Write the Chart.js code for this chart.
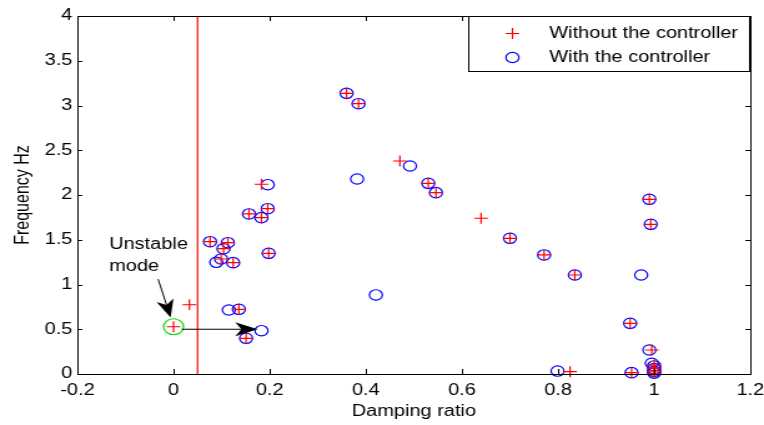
<!DOCTYPE html>
<html>
<head>
<meta charset="utf-8">
<script src="https://cdn.jsdelivr.net/npm/chart.js@4.4.1/dist/chart.umd.min.js"></script>
<style>
html, body { margin: 0; padding: 0; background: #fff; }
#wrap { width: 764px; height: 425px; }
canvas { display: block; }
</style>
</head>
<body>
<div id="wrap"><canvas id="chart" width="612" height="425" style="width:764px;height:425px"></canvas></div>
<script>
// eigenvalues without the controller (red +)
const withoutX = [0, 0.033, 0.076, 0.113, 0.104, 0.099, 0.124, 0.157, 0.183, 0.196, 0.183, 0.198, 0.136, 0.151,
  0.36, 0.385, 0.471, 0.53, 0.546, 0.64, 0.70, 0.771, 0.835, 0.99, 0.993, 0.95, 0.995, 0.825, 0.953,
  1.0, 1.0, 1.0, 1.0];
const withoutY = [0.528, 0.774, 1.478, 1.467, 1.40, 1.285, 1.244, 1.788, 1.747, 1.847, 2.12, 1.348, 0.723, 0.399,
  3.136, 3.02, 2.38, 2.13, 2.026, 1.74, 1.516, 1.33, 1.106, 1.952, 1.672, 0.566, 0.268, 0.026, 0.015,
  0.10, 0.065, 0.035, 0.008];

// eigenvalues with the controller (blue o)
const withX = [0.076, 0.113, 0.104, 0.099, 0.089, 0.124, 0.157, 0.183, 0.196, 0.196, 0.198, 0.115, 0.136, 0.183, 0.151,
  0.36, 0.385, 0.492, 0.382, 0.53, 0.546, 0.421, 0.70, 0.771, 0.835, 0.99, 0.993, 0.973, 0.95, 0.99,
  0.799, 0.953, 0.995, 1.0, 1.0, 1.0, 1.0];
const withY = [1.478, 1.467, 1.40, 1.285, 1.248, 1.244, 1.788, 1.747, 1.847, 2.115, 1.348, 0.715, 0.723, 0.484, 0.399,
  3.136, 3.02, 2.324, 2.179, 2.13, 2.026, 0.883, 1.516, 1.33, 1.106, 1.952, 1.672, 1.106, 0.566, 0.268,
  0.033, 0.015, 0.12, 0.09, 0.06, 0.03, 0.01];

const unstableX = [0];
const unstableY = [0.528];

// damping limit line
const limitX = [0.05, 0.05];
const limitY = [0, 4];

// annotation arrows, [x0, y0, x1, y1] in data units
const arrowLabel = [-0.032, 1.06, -0.006, 0.63];
const arrowShift = [0.017, 0.50, 0.175, 0.50];
const noteLines = ['Unstable', 'mode'];
const noteX = -0.134;
const noteY = [1.45, 1.205];

const legendLabels = ['Without the controller', 'With the controller'];

const FONT = "'Liberation Sans', Arial, sans-serif";
const pts = (xs, ys) => xs.map((x, i) => ({ x: x, y: ys[i] }));

const frame = {
  id: 'frame',
  afterDraw(chart) {
    const ctx = chart.ctx, a = chart.chartArea;
    const xs = chart.scales.x, ys = chart.scales.y;
    ctx.save();
    ctx.strokeStyle = '#000';
    ctx.lineWidth = 1;
    ctx.strokeRect(Math.round(a.left) + 0.5, Math.round(a.top) + 0.5,
      Math.round(a.right - a.left), Math.round(a.bottom - a.top));
    ctx.beginPath();
    xs.ticks.forEach((t, i) => {
      const px = Math.round(xs.getPixelForTick(i)) + 0.5;
      ctx.moveTo(px, a.bottom); ctx.lineTo(px, a.bottom - 5);
      ctx.moveTo(px, a.top); ctx.lineTo(px, a.top + 5);
    });
    ys.ticks.forEach((t, i) => {
      const py = Math.round(ys.getPixelForTick(i)) + 0.5;
      ctx.moveTo(a.left, py); ctx.lineTo(a.left + 4, py);
      ctx.moveTo(a.right, py); ctx.lineTo(a.right - 4, py);
    });
    ctx.stroke();
    ctx.restore();
  }
};

function arrow(ctx, xs, ys, seg) {
  const x0 = xs.getPixelForValue(seg[0]), y0 = ys.getPixelForValue(seg[1]);
  const x1 = xs.getPixelForValue(seg[2]), y1 = ys.getPixelForValue(seg[3]);
  const ang = Math.atan2(y1 - y0, x1 - x0);
  const len = 18, half = 7;
  const bx = x1 - Math.cos(ang) * len, by = y1 - Math.sin(ang) * len;
  ctx.beginPath();
  ctx.moveTo(x0, y0); ctx.lineTo(bx + Math.cos(ang) * 5, by + Math.sin(ang) * 5);
  ctx.stroke();
  ctx.beginPath();
  ctx.moveTo(x1, y1);
  ctx.lineTo(bx - Math.sin(ang) * half, by + Math.cos(ang) * half);
  ctx.lineTo(bx + Math.cos(ang) * 5, by + Math.sin(ang) * 5);
  ctx.lineTo(bx + Math.sin(ang) * half, by - Math.cos(ang) * half);
  ctx.closePath();
  ctx.fill();
}

const notes = {
  id: 'notes',
  afterDatasetsDraw(chart) {
    const ctx = chart.ctx, xs = chart.scales.x, ys = chart.scales.y;
    ctx.save();
    ctx.strokeStyle = '#000';
    ctx.fillStyle = '#000';
    ctx.lineWidth = 1;
    arrow(ctx, xs, ys, arrowLabel);
    arrow(ctx, xs, ys, arrowShift);
    ctx.font = '16px ' + FONT;
    ctx.textAlign = 'left';
    ctx.textBaseline = 'middle';
    noteLines.forEach((t, i) => ctx.fillText(t, xs.getPixelForValue(noteX), ys.getPixelForValue(noteY[i])));
    ctx.restore();
  }
};

const box = {
  id: 'box',
  afterDraw(chart) {
    const ctx = chart.ctx, a = chart.chartArea;
    const w = 225, h = 55;
    const left = Math.round(a.right - 1 - w) + 0.5, top = Math.round(a.top) + 0.5;
    ctx.save();
    ctx.fillStyle = '#fff';
    ctx.fillRect(left, top, w, h);
    ctx.strokeStyle = '#000';
    ctx.lineWidth = 1;
    ctx.strokeRect(left, top, w, h);
    const mx = left + 35, r1 = top + 17, r2 = top + 41;
    ctx.strokeStyle = '#ff0000';
    ctx.lineWidth = 1.2;
    ctx.beginPath();
    ctx.moveTo(mx - 5.5, r1); ctx.lineTo(mx + 5.5, r1);
    ctx.moveTo(mx, r1 - 5.5); ctx.lineTo(mx, r1 + 5.5);
    ctx.stroke();
    ctx.strokeStyle = '#0000ff';
    ctx.beginPath();
    ctx.arc(mx, r2, 5.2, 0, Math.PI * 2);
    ctx.stroke();
    ctx.fillStyle = '#000';
    ctx.font = '16px ' + FONT;
    ctx.textBaseline = 'middle';
    ctx.fillText(legendLabels[0], left + 64.5, r1);
    ctx.fillText(legendLabels[1], left + 64.5, r2);
    ctx.restore();
  }
};

new Chart(document.getElementById('chart'), {
  type: 'scatter',
  data: {
    datasets: [
      { label: legendLabels[0], data: pts(withoutX, withoutY), pointStyle: 'cross', pointRadius: 5.5,
        borderColor: '#ff0000', backgroundColor: '#ff0000', borderWidth: 1.2, clip: false },
      { label: legendLabels[1], data: pts(withX, withY), pointStyle: 'circle', pointRadius: 5.2,
        borderColor: '#0000ff', backgroundColor: 'rgba(0,0,0,0)', borderWidth: 1.2, clip: false },
      { label: 'Unstable mode', data: pts(unstableX, unstableY), pointStyle: 'circle', pointRadius: 8,
        borderColor: '#00dd00', backgroundColor: 'rgba(0,0,0,0)', borderWidth: 1.2, clip: false },
      { label: 'limit', data: pts(limitX, limitY), showLine: true, pointRadius: 0,
        borderColor: '#ff0000', borderWidth: 1.2, fill: false }
    ]
  },
  options: {
    responsive: false,
    devicePixelRatio: 1,
    animation: false,
    events: [],
    layout: { padding: { top: 16, right: 11, left: 0, bottom: 0 } },
    plugins: { legend: { display: false }, tooltip: { enabled: false } },
    scales: {
      x: {
        type: 'linear', min: -0.2, max: 1.2,
        ticks: { stepSize: 0.2, color: '#000', padding: 7, maxRotation: 0, autoSkip: false,
          font: { family: FONT, size: 16 }, callback: v => String(Math.round(v * 10) / 10) },
        grid: { display: false, drawTicks: false },
        border: { display: false },
        title: { display: true, text: 'Damping ratio', color: '#000', font: { family: FONT, size: 16 },
          padding: { top: 0, bottom: 4 } },
        afterFit: s => { s.height = 51; s.paddingLeft = 0; s.paddingRight = 0; }
      },
      y: {
        type: 'linear', min: 0, max: 4,
        ticks: { stepSize: 0.5, color: '#000', padding: 4,
          font: { family: FONT, size: 16 }, callback: v => String(v) },
        grid: { display: false, drawTicks: false },
        border: { display: false },
        title: { display: true, text: 'Frequency Hz', color: '#000', font: { family: FONT, size: 16 },
          padding: { top: 9, bottom: 0 } },
        afterFit: s => { s.width = 62; s.paddingTop = 0; s.paddingBottom = 0; }
      }
    }
  },
  plugins: [frame, notes, box]
});
</script>
</body>
</html>
